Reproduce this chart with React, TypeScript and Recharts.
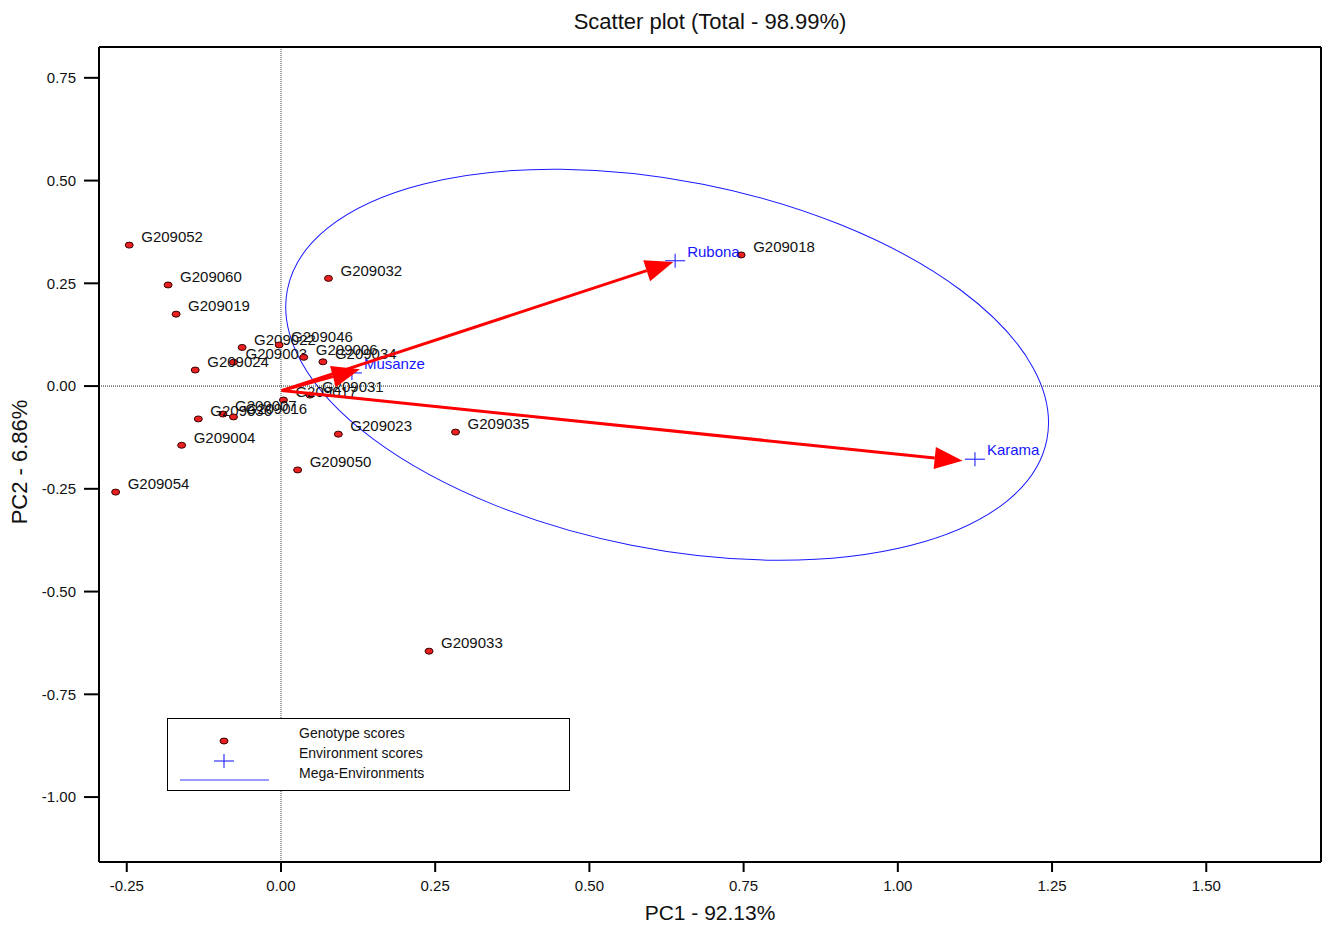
import React from 'react';
import { Label, Legend, ReferenceArea, ReferenceLine, Scatter, ScatterChart, XAxis, YAxis } from 'recharts';

// genotype scores (PC1 / PC2)
const genotypes = [
  'G209052', 'G209060', 'G209019', 'G209032', 'G209022', 'G209046', 'G209003', 'G209024',
  'G209006', 'G209034', 'G209031', 'G209017', 'G209007', 'G209036', 'G209016', 'G209004',
  'G209023', 'G209035', 'G209050', 'G209054', 'G209033', 'G209018',
];
const genoPC1 = [
  -0.246, -0.183, -0.17, 0.077, -0.063, -0.003, -0.077, -0.139,
  0.037, 0.068, 0.047, 0.004, -0.094, -0.134, -0.077, -0.161,
  0.093, 0.283, 0.027, -0.268, 0.24, 0.746,
];
const genoPC2 = [
  0.343, 0.246, 0.175, 0.262, 0.094, 0.1, 0.058, 0.039,
  0.07, 0.059, -0.022, -0.034, -0.068, -0.08, -0.075, -0.144,
  -0.117, -0.112, -0.204, -0.258, -0.645, 0.319,
];

// environment scores
const environments = ['Rubona', 'Karama', 'Musanze'];
const envPC1 = [0.639, 1.125, 0.115];
const envPC2 = [0.305, -0.178, 0.032];
const arrowTipPC1 = [0.636, 1.105, 0.128];
const arrowTipPC2 = [0.302, -0.182, 0.041];
const arrowOrigin = [0.001, -0.011];

// mega-environment ellipse: centre, half-axes (data units), tilt in degrees
const megaEnvCenter = [0.626, 0.052];
const megaEnvRadius = [0.6275, 0.4477];
const megaEnvTilt = 11.2;

const xDomain = [-0.295, 1.686];
const yDomain = [-1.158, 0.825];
const xTicks = [-0.25, 0, 0.25, 0.5, 0.75, 1, 1.25, 1.5];
const yTicks = [-1, -0.75, -0.5, -0.25, 0, 0.25, 0.5, 0.75];

const FONT = '"Liberation Sans", Arial, sans-serif';
const HEAD_LEN = 28;
const HEAD_HALF = 11;

const genotypeData = genotypes.map((name, i) => ({ name, pc1: genoPC1[i], pc2: genoPC2[i] }));
const envData = environments.map((name, i) => ({ name, pc1: envPC1[i], pc2: envPC2[i] }));

const GenotypeDot = (props: any) => {
  const { cx, cy, payload } = props;
  return (
    <g>
      <ellipse cx={cx} cy={cy} rx={4} ry={3} fill="#e82020" stroke="#3a0000" strokeWidth={1} />
      <text x={cx + 12} y={cy - 8} dy="0.35em" fontSize={15} fill="#111" fontFamily={FONT}>
        {payload.name}
      </text>
    </g>
  );
};

const EnvMarker = (props: any) => {
  const { cx, cy, payload } = props;
  return (
    <g>
      <line x1={cx - 10} x2={cx + 10} y1={cy} y2={cy} stroke="#3535ff" strokeWidth={1.2} />
      <line x1={cx} x2={cx} y1={cy - 7} y2={cy + 7} stroke="#3535ff" strokeWidth={1.2} />
      <text x={cx + 12} y={cy - 9} dy="0.35em" fontSize={15} fill="#1515ff" fontFamily={FONT}>
        {payload.name}
      </text>
    </g>
  );
};

const Arrow = (props: any) => {
  const { x1, y1, x2, y2 } = props;
  const dx = x2 - x1;
  const dy = y2 - y1;
  const len = Math.hypot(dx, dy) || 1;
  const ux = dx / len;
  const uy = dy / len;
  const bx = x2 - ux * HEAD_LEN;
  const by = y2 - uy * HEAD_LEN;
  const px = -uy * HEAD_HALF;
  const py = ux * HEAD_HALF;
  return (
    <g>
      <line x1={x1} y1={y1} x2={bx} y2={by} stroke="#ff0000" strokeWidth={3} />
      <polygon points={`${x2},${y2} ${bx + px},${by + py} ${bx - px},${by - py}`} fill="#ff0000" />
    </g>
  );
};

const MegaEnvShape = (props: any) => {
  const { x, y, width, height } = props;
  const cx = x + width / 2;
  const cy = y + height / 2;
  return (
    <ellipse
      cx={cx}
      cy={cy}
      rx={Math.abs(width) / 2}
      ry={Math.abs(height) / 2}
      transform={`rotate(${megaEnvTilt} ${cx} ${cy})`}
      fill="none"
      stroke="#1a1aff"
      strokeWidth={1}
    />
  );
};

const LegendBox = () => (
  <svg width={403} height={73} style={{ display: 'block', fontFamily: FONT }}>
    <rect x={0.5} y={0.5} width={402} height={72} fill="#fff" stroke="#000" strokeWidth={1} />
    <ellipse cx={57} cy={23} rx={4} ry={3} fill="#e82020" stroke="#3a0000" strokeWidth={1} />
    <line x1={47} x2={67} y1={43} y2={43} stroke="#3535ff" strokeWidth={1.2} />
    <line x1={57} x2={57} y1={36} y2={50} stroke="#3535ff" strokeWidth={1.2} />
    <line x1={13} x2={102} y1={62} y2={62} stroke="#3535ff" strokeWidth={1.2} />
    {['Genotype scores', 'Environment scores', 'Mega-Environments'].map((t, i) => (
      <text key={t} x={132} y={15 + i * 20} dy="0.35em" fontSize={14} fill="#111">
        {t}
      </text>
    ))}
  </svg>
);

const tickStyle = { fill: '#111', fontSize: 15, fontFamily: FONT };
const axisStroke = { stroke: '#000', strokeWidth: 2 };

export default function App() {
  return (
    <div style={{ width: 1322, height: 925, fontFamily: FONT }}>
      <style>{'body{margin:0}'}</style>
      <ScatterChart width={1322} height={925} margin={{ top: 0, right: 0, bottom: 0, left: 0 }}>
        <XAxis
          type="number"
          dataKey="pc1"
          domain={xDomain}
          allowDataOverflow
          ticks={xTicks}
          tickFormatter={(v: number) => v.toFixed(2)}
          height={63}
          tickSize={10}
          tickMargin={8}
          tick={tickStyle}
          tickLine={axisStroke}
          axisLine={axisStroke}
        >
          <Label
            content={(p: any) => {
              const vb = p.viewBox;
              return (
                <text x={vb.x + vb.width / 2} y={vb.y + 51} dy="0.35em" textAnchor="middle" fontSize={21} fill="#111" fontFamily={FONT}>
                  PC1 - 92.13%
                </text>
              );
            }}
          />
        </XAxis>
        <XAxis
          xAxisId="top"
          orientation="top"
          type="number"
          domain={xDomain}
          allowDataOverflow
          height={47}
          tick={false}
          tickLine={false}
          axisLine={axisStroke}
        >
          <Label
            content={(p: any) => {
              const vb = p.viewBox;
              return (
                <text x={vb.x + vb.width / 2} y={21} dy="0.35em" textAnchor="middle" fontSize={22} fill="#111" fontFamily={FONT}>
                  Scatter plot (Total - 98.99%)
                </text>
              );
            }}
          />
        </XAxis>
        <YAxis
          type="number"
          dataKey="pc2"
          domain={yDomain}
          allowDataOverflow
          ticks={yTicks}
          tickFormatter={(v: number) => v.toFixed(2)}
          width={99}
          tickSize={15}
          tickMargin={8}
          tick={tickStyle}
          tickLine={axisStroke}
          axisLine={axisStroke}
        >
          <Label
            content={(p: any) => {
              const vb = p.viewBox;
              const x = vb.x + 19;
              const y = vb.y + vb.height / 2 + 7.5;
              return (
                <text x={x} y={y} dy="0.35em" textAnchor="middle" fontSize={22} fill="#111" fontFamily={FONT} transform={`rotate(-90 ${x} ${y})`}>
                  PC2 - 6.86%
                </text>
              );
            }}
          />
        </YAxis>
        <YAxis
          yAxisId="right"
          orientation="right"
          type="number"
          domain={yDomain}
          allowDataOverflow
          width={1}
          tick={false}
          tickLine={false}
          axisLine={axisStroke}
        />
        <ReferenceLine x={0} stroke="#444" strokeWidth={1} strokeDasharray="1 1" />
        <ReferenceLine y={0} stroke="#222" strokeWidth={1} strokeDasharray="1 1" />
        <Scatter data={genotypeData} dataKey="pc2" shape={GenotypeDot} isAnimationActive={false} />
        <ReferenceArea
          x1={megaEnvCenter[0] - megaEnvRadius[0]}
          x2={megaEnvCenter[0] + megaEnvRadius[0]}
          y1={megaEnvCenter[1] - megaEnvRadius[1]}
          y2={megaEnvCenter[1] + megaEnvRadius[1]}
          ifOverflow="visible"
          shape={MegaEnvShape}
        />
        <Scatter data={envData} dataKey="pc2" shape={EnvMarker} isAnimationActive={false} />
        {environments.map((name, i) => (
          <ReferenceLine
            key={name}
            segment={[
              { x: arrowOrigin[0], y: arrowOrigin[1] },
              { x: arrowTipPC1[i], y: arrowTipPC2[i] },
            ]}
            ifOverflow="visible"
            zIndex={700}
            shape={Arrow}
          />
        ))}
        <Legend
          layout="vertical"
          align="center"
          verticalAlign="middle"
          content={() => <LegendBox />}
          wrapperStyle={{ position: 'absolute', left: 167, top: 718, width: 403, height: 73 }}
        />
      </ScatterChart>
    </div>
  );
}
